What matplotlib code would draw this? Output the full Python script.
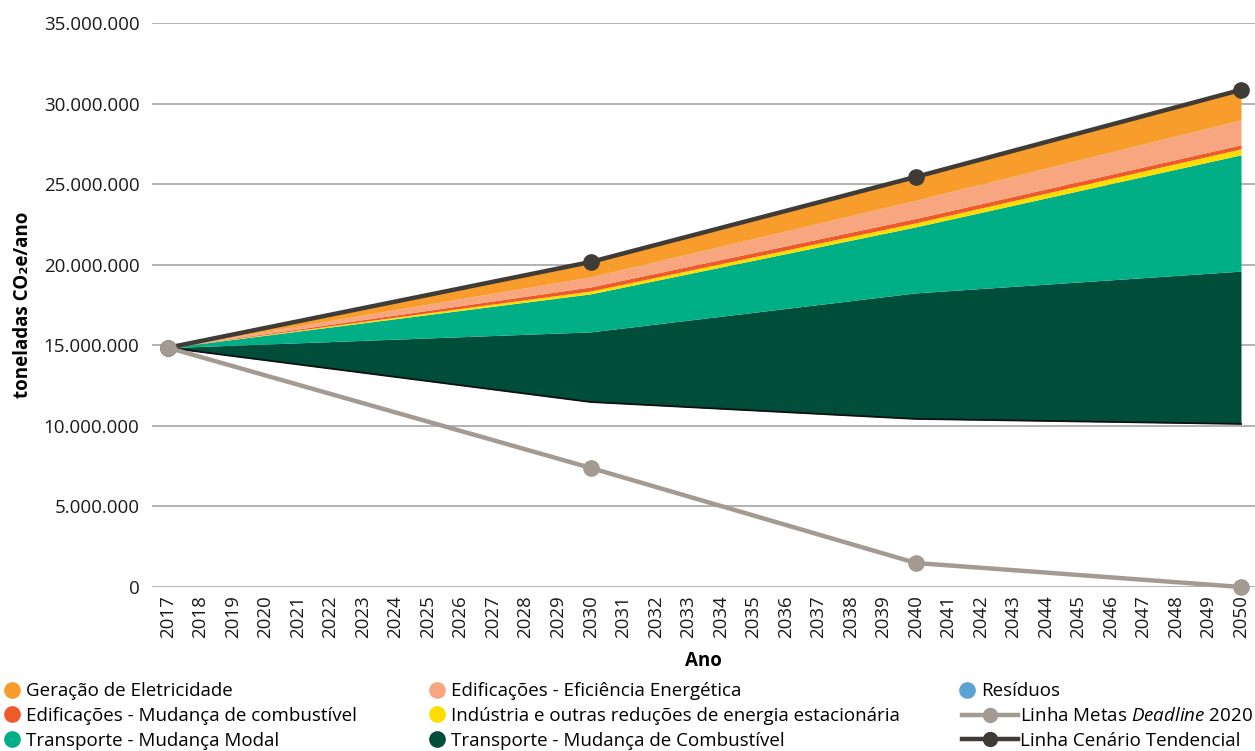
import numpy as np
import matplotlib.pyplot as plt
from matplotlib.lines import Line2D
from matplotlib.ticker import FuncFormatter

years = [2017, 2030, 2040, 2050]

# lower edge of the stacked wedges (t CO2e/ano)
base = [14.85e6, 11.48e6, 10.43e6, 10.12e6]

# wedge sizes, bottom to top
transp_combustivel = [0, 4.35e6, 7.82e6, 9.48e6]
transp_modal = [0, 2.36e6, 4.10e6, 7.22e6]
industria = [0, 0.18e6, 0.25e6, 0.37e6]
edif_mudanca = [0, 0.25e6, 0.27e6, 0.25e6]
edif_eficiencia = [0, 0.62e6, 1.13e6, 1.55e6]
geracao = [0, 0.93e6, 1.45e6, 1.86e6]
residuos = [0, 0, 0, 0]

# lines
cenario_tendencial = [14.85e6, 20.17e6, 25.45e6, 30.85e6]
metas_deadline = [14.85e6, 7.39e6, 1.49e6, 0]

tick_years = list(range(2017, 2051))

c_geracao = '#F89C2B'
c_edif_ef = '#F7A680'
c_residuos = '#5DA3D1'
c_edif_mud = '#EE5A2A'
c_industria = '#FFDD00'
c_modal = '#00AF86'
c_combust = '#004D3A'
c_metas = '#A39B91'
c_tend = '#3F3C38'

plt.rcParams['font.family'] = ['Open Sans', 'DejaVu Sans']
plt.rcParams['mathtext.fontset'] = 'custom'
plt.rcParams['mathtext.rm'] = 'Open Sans'
plt.rcParams['mathtext.it'] = 'Open Sans:italic'

fs = 13.5

fig = plt.figure(figsize=(12.55, 7.51), dpi=100)
ax = fig.add_axes([0.1211, 0.2184, 0.8789, 0.751])

wedges = [
    (transp_combustivel, c_combust),
    (transp_modal, c_modal),
    (industria, c_industria),
    (edif_mudanca, c_edif_mud),
    (edif_eficiencia, c_edif_ef),
    (geracao, c_geracao),
    (residuos, c_residuos),
]
lower = np.array(base, dtype=float)
for vals, col in wedges:
    upper = lower + np.array(vals, dtype=float)
    ax.fill_between(years, lower, upper, color=col, linewidth=0, zorder=2)
    lower = upper

# dark edge under the fuel-switch wedge
ax.plot(years, base, color='#111111', lw=1.3, zorder=3)

ax.plot(years, cenario_tendencial, color=c_tend, lw=3.2, marker='o', ms=11,
        zorder=4, clip_on=False)
ax.plot(years, metas_deadline, color=c_metas, lw=3.2, marker='o', ms=11,
        zorder=5, clip_on=False)

ax.set_xlim(2016.51, 2050.43)
ax.set_ylim(0, 35e6)
ax.set_yticks(np.arange(0, 35e6 + 1, 5e6))
ax.yaxis.set_major_formatter(FuncFormatter(lambda v, p: f'{int(v):,}'.replace(',', '.')))
ax.set_xticks(tick_years)
ax.set_xticklabels([str(y) for y in tick_years], rotation=90)
ax.tick_params(axis='both', length=0, labelsize=fs, colors='#1a1a1a')
ax.tick_params(axis='y', pad=9)
ax.tick_params(axis='x', pad=6)
ax.grid(axis='y', color='#9d9d9d', lw=1.1, zorder=0)
ax.set_axisbelow(True)
for s in ax.spines.values():
    s.set_visible(False)

ax.set_xlabel('Ano', fontsize=fs, fontweight='bold', labelpad=9)
ax.set_ylabel('toneladas CO₂e/ano', fontsize=fs, fontweight='bold', labelpad=8)


def dot(c):
    return Line2D([], [], ls='none', marker='o', ms=11, color=c)


def lm(c):
    return Line2D([], [], color=c, lw=3.2, marker='o', ms=10)


cols = [
    (0.002, [dot(c_geracao), dot(c_edif_mud), dot(c_modal)],
     ['Geração de Eletricidade', 'Edificações - Mudança de combustível',
      'Transporte - Mudança Modal']),
    (0.341, [dot(c_edif_ef), dot(c_industria), dot(c_combust)],
     ['Edificações - Eficiência Energética',
      'Indústria e outras reduções de energia estacionária',
      'Transporte - Mudança de Combustível']),
    (0.763, [dot(c_residuos)], ['Resíduos']),
]
for x0, h, l in cols:
    fig.legend(h, l, loc='upper left', bbox_to_anchor=(x0, 0.0915), frameon=False,
               fontsize=fs, handlelength=1.0, handletextpad=0.25,
               labelspacing=0.36, borderaxespad=0, borderpad=0)

fig.legend([lm(c_metas), lm(c_tend)],
           ['Linha Metas $\\mathit{Deadline}$ 2020', 'Linha Cenário Tendencial'],
           loc='upper left', bbox_to_anchor=(0.7664, 0.0585), frameon=False,
           fontsize=fs, handlelength=3.0, handletextpad=0.1,
           labelspacing=0.36, borderaxespad=0, borderpad=0)

fig.savefig('out.png', dpi=100)
